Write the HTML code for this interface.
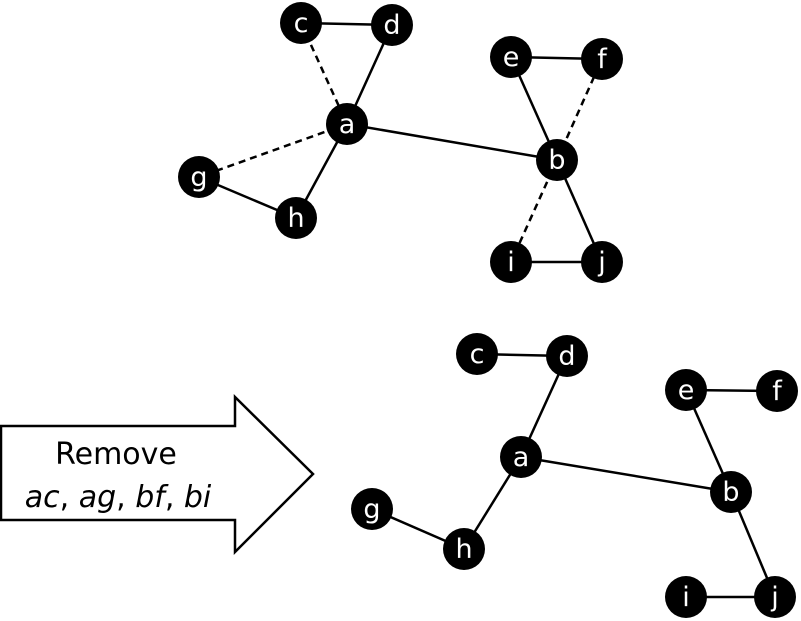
<!DOCTYPE html>
<html>
<head>
<meta charset="utf-8">
<style>
html,body{margin:0;padding:0;background:#fff;}
svg{display:block;}
text{font-family:"DejaVu Sans","Liberation Sans",sans-serif;}
</style>
</head>
<body>
<svg id="chart" width="801" height="621" viewBox="0 0 801 621" xmlns="http://www.w3.org/2000/svg">
  <g id="arrow">
    <polygon points="1,426 235,426 235,397 313,474 235,552 235,520 1,520" fill="#fff" stroke="#000" stroke-width="2.5"/>
    <text x="116" y="464" font-size="30" text-anchor="middle" fill="#000">Remove</text>
    <text x="118" y="507" font-size="30" text-anchor="middle" fill="#000"><tspan font-style="italic">ac</tspan>, <tspan font-style="italic">ag</tspan>, <tspan font-style="italic">bf</tspan>, <tspan font-style="italic">bi</tspan></text>
  </g>
  <g id="edges"></g>
  <g id="nodes"></g>
</svg>
<script>
const topNodeNames = ['a','b','c','d','e','f','g','h','i','j'];
const topNodeX = [347,557,301,392,511,602,199,296,511,602];
const topNodeY = [124,160,23,25,57,59,177,218,262,262];
const topEdges = [['c','d'],['d','a'],['a','h'],['g','h'],['a','b'],['e','f'],['e','b'],['b','j'],['i','j']];
const topDashedEdges = [['c','a'],['a','g'],['b','f'],['b','i']];
const bottomNodeNames = ['a','b','c','d','e','f','g','h','i','j'];
const bottomNodeX = [521,731,477,567,686,777,372,464,686,775];
const bottomNodeY = [457,492,354,356,390,391,509,549,597,597];
const bottomEdges = [['c','d'],['d','a'],['a','h'],['g','h'],['a','b'],['e','f'],['e','b'],['b','j'],['i','j']];

const NS = 'http://www.w3.org/2000/svg';
const edgeG = document.getElementById('edges');
const nodeG = document.getElementById('nodes');

function drawGraph(prefix, names, xs, ys, solid, dashed) {
  const pos = {};
  names.forEach((n, i) => { pos[n] = [xs[i], ys[i]]; });
  const drawEdge = (e, dash) => {
    const l = document.createElementNS(NS, 'line');
    l.setAttribute('x1', pos[e[0]][0]); l.setAttribute('y1', pos[e[0]][1]);
    l.setAttribute('x2', pos[e[1]][0]); l.setAttribute('y2', pos[e[1]][1]);
    l.setAttribute('stroke', '#000');
    l.setAttribute('stroke-width', '2.5');
    if (dash) l.setAttribute('stroke-dasharray', '7,5');
    
    
    edgeG.appendChild(l);
  };
  solid.forEach(e => drawEdge(e, false));
  dashed.forEach(e => drawEdge(e, true));
  names.forEach(n => {
    const g = document.createElementNS(NS, 'g');
    
    
    const c = document.createElementNS(NS, 'circle');
    c.setAttribute('cx', pos[n][0]); c.setAttribute('cy', pos[n][1]);
    c.setAttribute('r', 21); c.setAttribute('fill', '#000');
    g.appendChild(c);
    const t = document.createElementNS(NS, 'text');
    t.setAttribute('x', pos[n][0]); t.setAttribute('y', pos[n][1] + 9);
    t.setAttribute('text-anchor', 'middle');
    t.setAttribute('font-size', '27');
    t.setAttribute('fill', '#fff');
    t.textContent = n;
    g.appendChild(t);
    nodeG.appendChild(g);
  });
}
drawGraph('top', topNodeNames, topNodeX, topNodeY, topEdges, topDashedEdges);
drawGraph('bottom', bottomNodeNames, bottomNodeX, bottomNodeY, bottomEdges, []);
</script>
</body>
</html>
